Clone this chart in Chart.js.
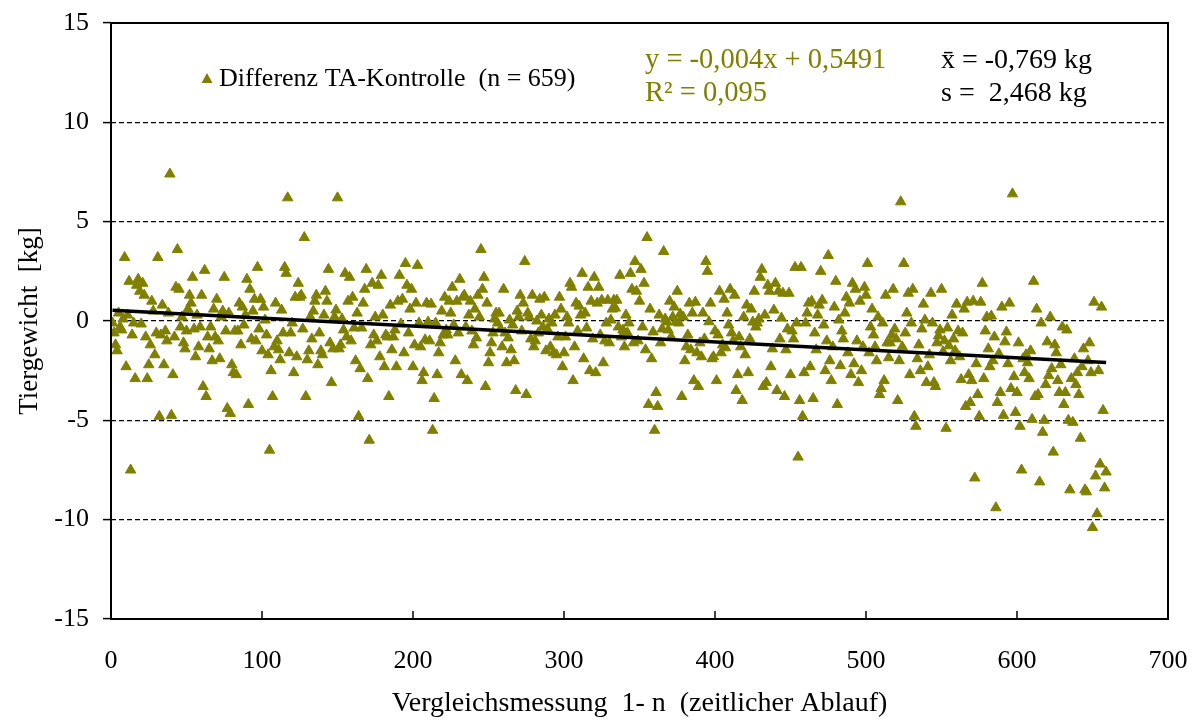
<!DOCTYPE html>
<html>
<head>
<meta charset="utf-8">
<script src="https://cdn.jsdelivr.net/npm/chart.js@4"></script>
<style>
  html, body { margin: 0; padding: 0; background: #fff; }
  #wrap { width: 1200px; height: 722px; }
</style>
</head>
<body>
<div id="wrap"><canvas id="chart" width="1200" height="722"></canvas></div>
<script>
// Differenz TA - Kontrolle je Vergleichsmessung (n = 659)
const differenz = [
  -0.1, -0.6, -1.2, -1.5, 0.4, -0.3, -0.45, 0.1, 3.2, -2.3, 0.3, 2.0, -7.5, -0.7, -0.1, -2.9, 1.8, 2.1, 1.5, -0.15, 1.9, 1.3, -0.8, -2.9, -2.2,
  -1.2, 1.0, 0.5, -1.7, -0.6, 3.2, -4.8, -0.7, 0.8, -2.2, -0.5, -1.0, 0.4, 7.4, -4.75, -2.7, -0.8, 1.7, 3.6, 1.6, -0.3, 0.2, -1.1, -1.4, -0.5,
  0.6, 1.3, 0.9, 2.2, -0.4, -1.8, 0.3, -1.3, -0.3, 1.3, -3.3, 2.55, -3.8, -0.8, -1.4, -0.3, -2.0, 0.6, -0.8, 1.1, -1.0, -1.9, 0.2, 0.5, 2.2,
  -0.5, -4.4, 0.4, -4.65, -2.2, -2.6, -0.5, -2.7, -0.5, 0.9, -1.2, 0.7, -0.2, 0.3, 2.1, -4.2, 1.6, -0.9, 0.5, 1.1, -1.0, 2.7, -0.4, 1.1, -1.5,
  0.7, 0.05, -0.7, -1.7, -6.5, -2.5, -3.8, -1.3, 0.9, -1.0, -1.45, -1.95, 0.55, -0.6, 2.7, 2.4, 6.2, -1.6, -0.6, -0.1, -2.6, 1.2, -1.8, 1.9, 1.2,
  1.3, -0.4, 4.2, -3.8, -1.95, -1.5, 0.2, -0.9, 0.5, 1.0, 1.3, -2.2, -0.6, -1.5, -1.7, 0.3, 1.5, 1.0, 2.6, -1.1, -3.1, -1.4, 0.2, 0.55, 6.2,
  -1.4, -1.2, 0.1, -0.45, 2.4, -0.8, 1.0, 2.2, -1.0, 1.2, -0.35, -2.0, 0.4, -4.8, -2.4, -0.35, 0.9, 1.6, 2.6, -2.9, -6.0, -1.2, 1.9, -0.7, 0.2,
  -1.0, 1.8, -1.8, 2.3, 0.3, -2.3, -0.7, -0.8, -3.8, 0.8, -1.45, -0.8, -0.45, -2.3, 1.0, 2.3, -0.15, 1.1, -1.6, 2.9, 1.8, -0.6, 0.6, 1.6, -2.3,
  -1.2, 0.9, 2.8, -0.1, -1.3, -3.0, -2.6, -0.95, 0.9, -0.05, -1.0, 0.85, -5.5, -3.9, -0.1, -2.7, -1.6, -1.1, 0.5, -0.7, 1.2, -0.45, -0.7, 1.0, 0.4,
  1.7, -0.2, -2.0, 1.0, -0.6, 2.1, -2.7, 1.2, 1.3, -0.3, -3.0, 0.3, 1.0, -0.5, -1.2, 0.6, -0.85, 1.3, 0.2, 3.6, 1.6, 2.2, -3.3, 0.9, -2.1,
  -1.6, -1.1, -0.6, 0.1, 0.4, -0.1, 0.4, -0.4, -1.3, 1.6, -0.6, -2.1, -0.85, 0.05, -1.45, -0.2, -2.0, -3.5, 0.5, 0.2, 1.3, -0.5, 0.9, 3.0, -3.7,
  0.4, 0.2, -0.9, 1.3, -1.3, -1.0, 0.0, -0.6, 1.1, 0.3, -0.3, 1.2, -1.5, -0.4, 0.1, -1.3, -0.1, -1.6, 0.3, -1.7, -0.8, 1.2, 0.6, -2.3, -1.6,
  -0.8, 0.2, -0.1, 1.9, 1.7, -3.0, -1.3, 0.9, -0.5, 0.75, 0.3, 2.4, -1.9, 0.4, -0.35, 1.7, -2.5, 1.0, -0.9, 2.2, -2.6, 0.9, 1.7, -0.7, 1.05,
  -2.1, -1.0, -0.1, 1.05, -1.1, 0.05, 0.6, 1.05, 0.65, 1.05, -0.3, 2.3, -0.8, -0.45, -1.3, 0.3, -0.6, -0.1, 2.4, 1.6, -1.1, 3.0, 1.5, -1.0, 1.0,
  2.6, -0.3, 1.9, -1.45, 4.2, -4.2, 0.6, -1.9, -0.55, -5.5, -3.6, -4.3, 0.3, -1.1, -0.4, 3.5, 0.1, -0.05, -0.45, 1.0, -0.8, 0.2, 0.7, -0.05, 1.5,
  -0.1, 0.35, -3.8, 0.2, -2.0, -1.3, -0.7, 0.9, -1.45, 0.4, -3.0, 0.95, -1.6, -3.3, -1.1, -1.8, 0.4, -0.9, 3.0, 2.5, -0.04, 0.9, -1.9, -1.8, -0.5,
  -3.0, -0.7, 1.5, -1.6, -1.2, 1.1, -1.35, 0.4, -0.2, 1.6, -0.6, -1.0, 1.3, -3.5, -2.7, -0.8, -1.3, -4.0, 0.2, -1.7, 0.8, -2.6, -0.9, 0.6, -0.05,
  1.5, -0.3, -0.1, 0.1, 2.2, 2.6, -3.3, 0.3, -3.1, 1.8, 1.5, -2.3, -1.4, 0.55, 1.9, -3.5, 1.5, -0.9, 0.15, 1.4, -3.8, -1.45, -0.4, 1.4, -2.7,
  -0.5, -0.9, 2.7, -0.1, -6.85, -4.0, 2.7, -4.8, -2.6, -0.1, 0.4, 0.9, -2.3, 1.0, -3.9, -0.6, -1.45, 0.3, 0.8, 2.5, 1.05, -0.2, -2.5, -1.0, 3.3,
  -2.0, -3.0, -1.3, 0.7, 2.0, -4.2, 0.05, -2.25, -0.5, -0.9, 0.4, 1.2, -1.6, 0.9, -2.7, 1.9, -2.15, 1.6, -1.0, -3.1, 1.0, -2.5, -1.3, 1.7, 1.3,
  2.9, -1.6, -0.3, 0.6, -0.7, -1.3, -2.0, 0.2, -3.7, -3.4, -0.1, -3.0, 1.3, -1.1, -1.85, -1.1, -0.7, 1.6, -0.4, -0.9, -4.0, -2.0, 6.0, -1.3, 2.9,
  -0.6, 0.4, 1.4, -2.7, -0.1, 1.6, -4.8, -5.3, -1.9, -1.2, -2.5, -0.4, 0.85, 0.05, -3.1, -2.3, -1.7, 1.4, -0.1, -3.1, -3.3, -1.1, -0.75, -0.45, 1.6,
  -1.55, -1.0, -5.4, -0.35, -1.25, -2.0, 0.3, -0.9, -1.5, 0.85, -0.5, -1.8, -2.95, -0.6, 0.6, -4.3, 0.95, -2.7, -4.1, -3.0, 1.0, -7.9, -2.15, -3.7, -4.8,
  0.95, 1.9, -2.9, -0.5, 0.2, -1.4, -2.3, 0.25, -2.0, -0.8, -9.4, -4.1, -1.65, -3.6, 0.7, -4.75, -1.05, -0.55, -2.15, 0.9, -3.4, 6.4, -2.8, -4.6, -3.6,
  -1.1, -5.3, -7.5, -1.9, -2.6, -1.7, -2.1, -2.9, -1.5, -4.95, 2.0, -3.8, 0.6, -3.7, -8.1, -0.1, -5.6, -5.0, -3.2, -1.05, -2.75, 0.2, -2.4, -6.6, -1.2,
  -1.6, -3.0, -3.6, -2.2, -0.3, -4.2, -3.6, -0.45, -5.0, -8.5, -2.9, -5.1, -1.9, -3.2, -2.6, -3.7, -5.9, -2.3, -1.4, -8.5, -8.6, -2.0, -1.1, -2.6, -10.4,
  0.95, -7.8, -9.7, -2.5, -7.2, 0.7, -4.5, -8.4, -7.6
];
const messung = differenz.map((_, i) => i + 1);

const xTicks = [0, 100, 200, 300, 400, 500, 600, 700];
const yTicks = [-15, -10, -5, 0, 5, 10, 15];

// Regressionsgerade laut Beschriftung
const trendSlope = -0.004;
const trendIntercept = 0.5491;

const legendLabel = 'Differenz TA-Kontrolle  (n = 659)';
const eqLines = ['y = -0,004x + 0,5491', 'R² = 0,095'];
const statLines = ['x\u0304 = -0,769 kg', 's =  2,468 kg'];

const OLIVE = '#808000';
const FONT = '"Liberation Serif", "Times New Roman", serif';

const points = messung.map((m, i) => ({ x: m, y: differenz[i] }));
const xFirst = messung[0], xLast = messung[messung.length - 1];
const trend = [
  { x: xFirst, y: trendSlope * xFirst + trendIntercept },
  { x: xLast, y: trendSlope * xLast + trendIntercept }
];

const framePlugin = {
  id: 'frame',
  afterDraw(chart) {
    const { ctx, chartArea: a, scales: { x } } = chart;
    ctx.save();
    // Rahmen
    ctx.strokeStyle = '#000';
    ctx.lineWidth = 2;
    ctx.strokeRect(a.left, a.top, a.right - a.left, a.bottom - a.top);
    // Teilstriche nach innen
    ctx.lineWidth = 1.5;
    xTicks.forEach(v => {
      const px = x.getPixelForValue(v);
      ctx.beginPath();
      ctx.moveTo(px, a.bottom);
      ctx.lineTo(px, a.bottom - 8);
      ctx.stroke();
    });
    // Legende
    ctx.fillStyle = OLIVE;
    ctx.beginPath();
    ctx.moveTo(207, 73);
    ctx.lineTo(212.5, 83);
    ctx.lineTo(201.5, 83);
    ctx.closePath();
    ctx.fill();
    ctx.font = '26px ' + FONT;
    ctx.textBaseline = 'middle';
    ctx.fillStyle = '#000';
    ctx.fillText(legendLabel, 219, 79);
    // Gleichung
    ctx.font = '28.5px ' + FONT;
    ctx.fillStyle = OLIVE;
    ctx.fillText(eqLines[0], 645, 61);
    ctx.fillText(eqLines[1], 645, 94);
    // Kennwerte
    ctx.font = '28px ' + FONT;
    ctx.fillStyle = '#000';
    ctx.fillText(statLines[0], 941, 61);
    ctx.fillText(statLines[1], 941, 94);
    ctx.restore();
  }
};

const ctx = document.getElementById('chart').getContext('2d');
new Chart(ctx, {
  type: 'scatter',
  data: {
    datasets: [
      {
        type: 'line',
        label: 'Trend',
        data: trend,
        borderColor: '#000',
        borderWidth: 3.5,
        pointRadius: 0,
        fill: false,
        order: 0
      },
      {
        label: legendLabel,
        data: points,
        pointStyle: 'triangle',
        pointRadius: 6,
        backgroundColor: OLIVE,
        borderColor: OLIVE,
        borderWidth: 1,
        order: 1
      }
    ]
  },
  options: {
    responsive: false,
    animation: false,
    devicePixelRatio: 1,
    layout: { padding: { left: 0, top: 23, right: 32, bottom: 0 } },
    plugins: {
      legend: { display: false },
      tooltip: { enabled: false }
    },
    scales: {
      x: {
        type: 'linear',
        min: 0,
        max: 700,
        afterFit: s => { s.height = 103; s.paddingLeft = 0; s.paddingRight = 0; },
        afterBuildTicks: s => { s.ticks = xTicks.map(v => ({ value: v })); },
        ticks: {
          font: { family: FONT, size: 26 },
          color: '#000',
          padding: 27,
          maxRotation: 0
        },
        grid: { drawOnChartArea: false, drawTicks: false },
        border: { display: false },
        title: {
          display: true,
          text: 'Vergleichsmessung  1- n  (zeitlicher Ablauf)',
          font: { family: FONT, size: 28 },
          color: '#000',
          padding: { top: 0, bottom: 2 }
        }
      },
      y: {
        min: -15,
        max: 15,
        afterFit: s => { s.width = 111; s.paddingTop = 0; s.paddingBottom = 0; },
        afterBuildTicks: s => { s.ticks = yTicks.map(v => ({ value: v })); },
        ticks: {
          font: { family: FONT, size: 26 },
          color: '#000',
          padding: 14
        },
        grid: {
          color: c => (Math.abs(c.tick.value) === 15 ? 'rgba(0,0,0,0)' : '#000'),
          lineWidth: 1.2,
          tickLength: 8,
          tickColor: '#000',
          tickWidth: 1.5,
          tickBorderDash: []
        },
        border: { display: false, dash: [5, 3] },
        title: {
          display: true,
          text: 'Tiergewicht  [kg]',
          font: { family: FONT, size: 27 },
          color: '#000',
          padding: { top: 14, bottom: 0 }
        }
      }
    }
  },
  plugins: [framePlugin]
});
</script>
</body>
</html>
